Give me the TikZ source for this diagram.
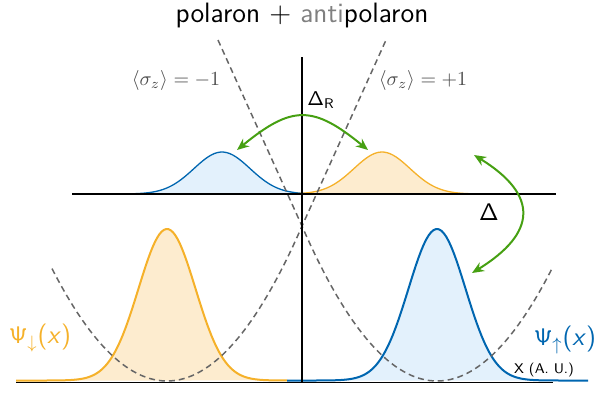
\documentclass[tikz,border=0pt]{standalone}
\usepackage{amsmath}
\usepackage{tikz}
\usetikzlibrary{arrows.meta, positioning}
\renewcommand{\familydefault}{\sfdefault}
\definecolor{psiblue}{HTML}{0066B0}
\definecolor{psibluefill}{HTML}{E3F1FC}
\definecolor{psiorange}{HTML}{F5B12A}
\definecolor{psiorangefill}{HTML}{FDECCF}
\definecolor{hopgreen}{HTML}{46A012}

\begin{document}
\begin{tikzpicture}[
    x=0.5pt, y=-0.5pt,
    axis/.style={line width=0.8pt, black},
    well/.style={dash pattern=on 3pt off 2pt, line width=0.75pt, black!60},
    upsi/.style={line width=1pt, draw=psiblue, fill=psibluefill},
    dpsi/.style={line width=1pt, draw=psiorange, fill=psiorangefill},
    upsmall/.style={upsi, line width=0.65pt},
    dpsmall/.style={dpsi, line width=0.65pt},
    hop/.style={<->, >={Stealth[length=6pt, width=5pt]}, line width=1pt, hopgreen},
    lbl/.style={text=black!70}
]
\useasboundingbox (0,0) rectangle (599,393);

\path[upsmall] plot[domain=72:372, samples=100] (\x, {194-42*exp(-0.5*((\x-222)/28)^2)});
\path[dpsmall] plot[domain=232:533, samples=100] (\x, {194-42*exp(-0.5*((\x-382)/28)^2)});
\path[dpsi] plot[domain=16:287, samples=120] (\x, {380.5-151.5*exp(-0.5*((\x-167)/28.5)^2)});
\path[upsi] plot[domain=287:588, samples=120] (\x, {380.5-151.5*exp(-0.5*((\x-437)/28.5)^2)});

\draw[well] plot[domain=-115:135, samples=60] ({167+\x}, {381-0.85*(\x/10)^2}) -- (386,40);
\draw[well] (218,40) -- plot[domain=-135:115, samples=60] ({437+\x}, {381-0.85*(\x/10)^2});

\draw[axis] (72,194) -- (556,194);
\draw[axis] (16,382.5) -- (553,382.5);
\draw[axis] (302,57) -- (302,382.5);

\node[font=\fontsize{14}{17}\selectfont] (title) at (302,15) {polaron $+$ \textcolor{gray}{anti}polaron};
\node[lbl] (minus) at (176,80) {$\langle\sigma_z\rangle = -1$};
\node[lbl] (plus) at (423,80) {$\langle\sigma_z\rangle = +1$};
\node (dR) at (321,100) {$\mathsf{\Delta}_{\mathsf{R}}$};
\node[font=\large] (dX) at (489,212) {$\mathsf{\Delta}$};
\node[text=psiorange, font=\fontsize{13}{16}\selectfont] (psidown) at (40,338) {$\mathsf{\Psi}_{\downarrow}$(\textit{x})};
\node[text=psiblue, font=\fontsize{13}{16}\selectfont] (psiup) at (565,340) {$\mathsf{\Psi}_{\uparrow}$(\textit{x})};
\node[font=\scriptsize] (xunit) at (544,370) {X (A. U.)};

\coordinate (dRl) at (237,150);
\coordinate (dRr) at (368,150);
\coordinate (dtop) at (474,155);
\coordinate (dbot) at (472,273);
\draw[hop] (dRl) .. controls (292,105) and (313,105) .. (dRr);
\draw[hop] (dtop) .. controls (539,195) and (537,233) .. (dbot);
\end{tikzpicture}
\end{document}
